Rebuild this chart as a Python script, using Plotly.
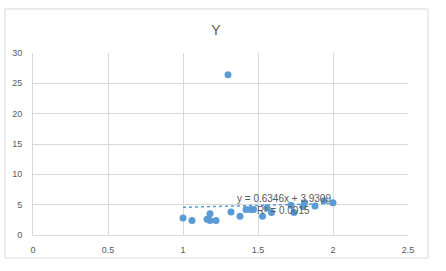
import plotly.graph_objects as go

x_vals = [1.00, 1.06, 1.16, 1.18, 1.18, 1.22, 1.30, 1.32, 1.38, 1.42, 1.45, 1.47,
          1.53, 1.56, 1.59, 1.72, 1.74, 1.80, 1.81, 1.88, 1.94, 2.00]
y_vals = [2.8, 2.4, 2.6, 3.5, 2.4, 2.4, 26.4, 3.8, 3.1, 4.2, 4.2, 4.2,
          3.1, 4.5, 3.7, 4.9, 3.7, 4.7, 5.3, 4.8, 5.65, 5.3]
slope = 0.6346
intercept = 3.9309
r2 = 0.0015
title = "Y"
x_ticks = [0, 0.5, 1, 1.5, 2, 2.5]
x_tick_text = ["0", "0.5", "1", "1.5", "2", "2.5"]
y_ticks = [0, 5, 10, 15, 20, 25, 30]

grey = "#595959"
grid = "#d9d9d9"
font_family = "Liberation Sans, Arial, sans-serif"

x0, x1 = min(x_vals), max(x_vals)
trend_x = [x0, x1]
trend_y = [slope * v + intercept for v in trend_x]

fig = go.Figure()
fig.add_trace(go.Scatter(x=trend_x, y=trend_y, mode="lines",
                         line=dict(color="#5B9BD5", width=1.5, dash="dot"),
                         hoverinfo="skip", showlegend=False))
fig.add_trace(go.Scatter(x=x_vals, y=y_vals, mode="markers",
                         marker=dict(color="#5B9BD5", size=7),
                         showlegend=False))

fig.add_annotation(x=1.67, y=5.95, xref="x", yref="y",
                   text=f"y = {slope}x + {intercept}", showarrow=False,
                   font=dict(family=font_family, size=10, color=grey))
fig.add_annotation(x=1.67, y=4.05, xref="x", yref="y",
                   text=f"R² = {r2}", showarrow=False,
                   font=dict(family=font_family, size=10, color=grey))

fig.add_shape(type="rect", xref="paper", yref="paper",
              x0=-0.0747, x1=1.0533, y0=-0.1264, y1=1.2418,
              line=dict(color=grid, width=1), fillcolor="rgba(0,0,0,0)")

fig.update_layout(
    width=446, height=271,
    margin=dict(l=33, r=38, t=53, b=36),
    paper_bgcolor="white", plot_bgcolor="white",
    title=dict(text=title, x=(216 - 0) / 446, xanchor="center", y=1 - 30 / 271,
               yanchor="middle", font=dict(family=font_family, size=14, color=grey)),
    font=dict(family=font_family, size=9, color=grey),
    xaxis=dict(range=[0, 2.5], tickvals=x_tick_text and x_ticks, ticktext=x_tick_text,
               showgrid=True, gridcolor=grid, gridwidth=1, zeroline=False,
               showline=True, linecolor=grid, ticks="", ticklabelstandoff=6,
               tickfont=dict(size=9, color=grey), fixedrange=True),
    yaxis=dict(range=[0, 30], tickvals=y_ticks,
               showgrid=True, gridcolor=grid, gridwidth=1, zeroline=False,
               showline=True, linecolor=grid, ticks="", ticklabelstandoff=8,
               tickfont=dict(size=9, color=grey), fixedrange=True),
)

fig.write_html("out.html")
